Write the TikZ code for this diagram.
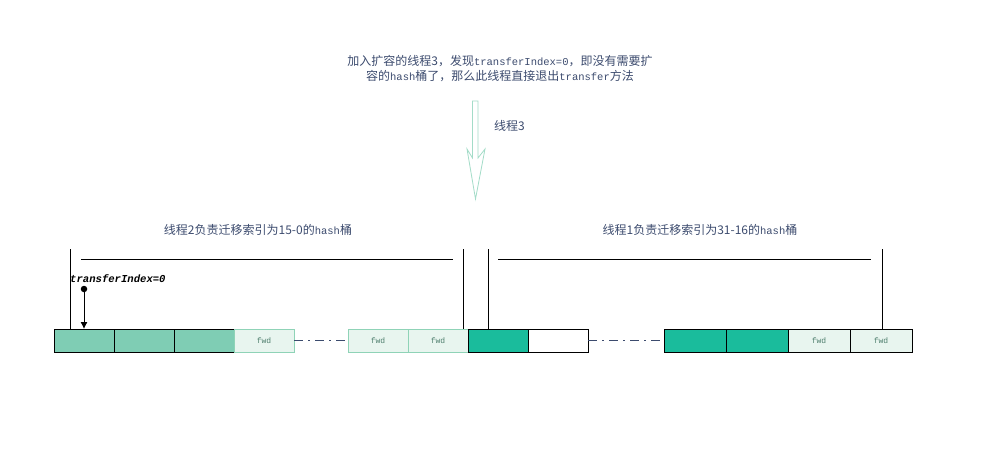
\documentclass[tikz,border=0pt]{standalone}
\usepackage{fontspec}
\setmainfont{Noto Sans CJK SC}
\setmonofont{Liberation Mono}
\usepackage{tikz}
\usetikzlibrary{positioning, arrows.meta}
\usepackage{xcolor}

\definecolor{txtblue}{HTML}{3C4B6E}
\definecolor{lightteal}{HTML}{7FCDB4}
\definecolor{darkteal}{HTML}{1ABC9C}
\definecolor{fwdfill}{HTML}{E8F5EF}
\definecolor{fwdedge}{HTML}{8FD3B7}
\definecolor{fwdtext}{HTML}{4F7F6E}
\definecolor{arrowteal}{HTML}{A3DCC8}

\newcommand{\mono}[1]{{\ttfamily\fontsize{10.5}{12}\selectfont #1}}

\tikzset{
    cell/.style={draw=black, line width=0.8pt, minimum width=60pt, minimum height=23pt,
                 inner sep=0pt, outer sep=0pt, anchor=west},
    oldcell/.style={cell, fill=lightteal},
    newcell/.style={cell, fill=darkteal},
    fwdcell/.style={cell, fill=fwdfill, draw=fwdedge, text=fwdtext,
                    font=\ttfamily\fontsize{8}{9}\selectfont},
    bracket/.style={line width=0.8pt},
    gap/.style={txtblue, line width=0.8pt, dash pattern=on 9pt off 5pt on 2pt off 5pt},
    caption/.style={text=txtblue, font=\fontsize{12}{15}\selectfont, inner sep=0pt}
}

\begin{document}
\begin{tikzpicture}[x=1pt, y=-1pt]
    \useasboundingbox (0,0) rectangle (987,449);

    % Top note
    \node[caption, align=center] (note) at (500,69)
        {加入扩容的线程3，发现\mono{transferIndex=0}，即没有需要扩\\
         容的\mono{hash}桶了，那么此线程直接退出\mono{transfer}方法};

    % Thread 3 arrow
    \draw[arrowteal, line width=0.8pt, fill=white]
        (472.5,101) -- (478,101) -- (478,158) -- (485,149) -- (475.5,199)
        -- (467,149) -- (472.5,158) -- cycle;
    \node[caption, anchor=west] (t3) at (494,126) {线程3};

    % Left table part (thread 2)
    \node[oldcell] (c1) at (54,340.5) {};
    \node[oldcell, right=0pt of c1] (c2) {};
    \node[oldcell, right=0pt of c2] (c3) {};
    \node[fwdcell, right=0pt of c3] (c4) {fwd};
    \node[fwdcell] (c5) at (348,340.5) {fwd};
    \node[fwdcell, right=0pt of c5] (c6) {fwd};

    % Right table part (thread 1)
    \node[newcell, right=0pt of c6] (d1) {};
    \node[cell, fill=white, right=0pt of d1] (d2) {};
    \node[newcell, minimum width=62pt] (d3) at (664,340.5) {};
    \node[newcell, minimum width=62pt, right=0pt of d3] (d4) {};
    \node[fwdcell, draw=black, minimum width=62pt, right=0pt of d4] (d5) {fwd};
    \node[fwdcell, draw=black, minimum width=62pt, right=0pt of d5] (d6) {fwd};

    % Gaps
    \draw[gap] (c4.east) -- (c5.west);
    \draw[gap] (d2.east) -- (d3.west);

    % Ranges
    \node[caption] (r2) at (258,230) {线程2负责迁移索引为15-0的\mono{hash}桶};
    \node[caption] (r1) at (700,230) {线程1负责迁移索引为31-16的\mono{hash}桶};
    \draw[bracket] (70,249) -- (70,329);
    \draw[bracket] (81,259) -- (453,259);
    \draw[bracket] (463,249) -- (463,329);
    \draw[bracket] (488,249) -- (488,329);
    \draw[bracket] (498,259) -- (871,259);
    \draw[bracket] (882,249) -- (882,329);

    % transferIndex pointer
    \node[anchor=south west, inner sep=0pt,
          font=\ttfamily\bfseries\itshape\fontsize{10.6}{12}\selectfont] (ti) at (70,283) {transferIndex=0};
    \node[circle, fill=black, inner sep=0pt, minimum size=6.5pt] (dot) at (84,289) {};
    \draw[-{Latex[length=7pt, width=7pt]}, line width=0.9pt] (dot) -- (c1.north);
\end{tikzpicture}
\end{document}
